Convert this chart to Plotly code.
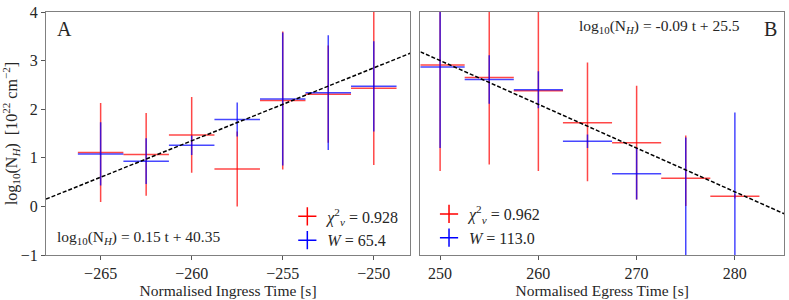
import plotly.graph_objects as go

# ---------------- data ----------------
t_ingress = [-265, -262.5, -260, -257.5, -255, -252.5, -250]
t_ingress_err = [1.25] * 7
red_ingress = [1.11, 1.07, 1.47, 0.77, 2.18, 2.31, 2.43]
red_ingress_err = [1.02, 0.85, 0.78, 0.77, 1.42, 1.00, 1.58]
blue_ingress = [1.08, 0.93, 1.26, 1.79, 2.21, 2.34, 2.47]
blue_ingress_err = [0.65, 0.47, 0.20, 0.35, 1.37, 1.18, 0.93]

t_egress = [250, 255, 260, 265, 270, 275, 280]
t_egress_err = [2.5] * 7
red_egress = [2.91, 2.65, 2.38, 1.72, 1.31, 0.58, 0.21]
red_egress_err_plus = [2.20, 1.80, 1.65, 1.24, 1.17, 0.88, 0.05]
red_egress_err_minus = [2.18, 1.79, 1.65, 1.20, 1.17, 0.57, 0.05]
blue_egress = [2.87, 2.61, 2.40, 1.34, 0.67, -1.30, -1.20]
blue_egress_err = [1.67, 0.50, 0.38, 0.14, 0.53, 2.72, 3.13]

fit_ingress = {"slope": 0.15, "intercept": 40.35}
fit_egress = {"slope": -0.09, "intercept": 25.5}

ingress_range = [-268, -248]
egress_range = [248, 285]
y_range = [-1, 4]

legend_ingress = ["<i>χ</i><sup>2</sup><sub><i>ν</i></sub> = 0.928", "<i>W</i> = 65.4"]
legend_egress = ["<i>χ</i><sup>2</sup><sub><i>ν</i></sub> = 0.962", "<i>W</i> = 113.0"]

eq_ingress = "log<sub>10</sub>(N<sub><i>H</i></sub>) = 0.15 t + 40.35"
eq_egress = "log<sub>10</sub>(N<sub><i>H</i></sub>) = -0.09 t + 25.5"

RED = "rgba(255,0,0,0.72)"
BLUE = "rgba(0,0,255,0.72)"
FONT = "'Liberation Serif', 'DejaVu Serif', 'Times New Roman', serif"
TXT = "#262626"

fig = go.Figure()


def err_trace(x, y, xerr, yplus, yminus, color, xa, ya):
    return go.Scatter(
        x=x, y=y, mode="markers", xaxis=xa, yaxis=ya,
        marker=dict(size=1, color="rgba(0,0,0,0)"),
        error_x=dict(type="data", array=xerr, symmetric=True, color=color,
                     thickness=1.5, width=0),
        error_y=dict(type="data", array=yplus, arrayminus=yminus,
                     symmetric=False, color=color, thickness=1.5, width=0),
        showlegend=False, hoverinfo="skip",
    )


# ingress panel
fig.add_trace(err_trace(t_ingress, red_ingress, t_ingress_err, red_ingress_err,
                        red_ingress_err, RED, "x", "y"))
fig.add_trace(err_trace(t_ingress, blue_ingress, t_ingress_err, blue_ingress_err,
                        blue_ingress_err, BLUE, "x", "y"))
fig.add_trace(go.Scatter(
    x=ingress_range,
    y=[fit_ingress["slope"] * t + fit_ingress["intercept"] for t in ingress_range],
    mode="lines", line=dict(color="black", width=1.5, dash="4px,2px"),
    xaxis="x", yaxis="y", showlegend=False, hoverinfo="skip"))

# egress panel
fig.add_trace(err_trace(t_egress, red_egress, t_egress_err, red_egress_err_plus,
                        red_egress_err_minus, RED, "x2", "y2"))
fig.add_trace(err_trace(t_egress, blue_egress, t_egress_err, blue_egress_err,
                        blue_egress_err, BLUE, "x2", "y2"))
fig.add_trace(go.Scatter(
    x=egress_range,
    y=[fit_egress["slope"] * t + fit_egress["intercept"] for t in egress_range],
    mode="lines", line=dict(color="black", width=1.5, dash="4px,2px"),
    xaxis="x2", yaxis="y2", showlegend=False, hoverinfo="skip"))

# legend entries
for name, col, leg in [(legend_ingress[0], "red", "legend"),
                       (legend_ingress[1], "blue", "legend"),
                       (legend_egress[0], "red", "legend2"),
                       (legend_egress[1], "blue", "legend2")]:
    fig.add_trace(go.Scatter(
        x=[None], y=[None], mode="markers", name=name, legend=leg,
        xaxis="x" if leg == "legend" else "x2",
        yaxis="y" if leg == "legend" else "y2",
        marker=dict(symbol="cross-thin", size=13, color=col,
                    line=dict(color=col, width=1.5))))

axis_common = dict(showline=True, mirror=True, linecolor="#808080", linewidth=1,
                   showgrid=False, zeroline=False, ticks="outside", ticklen=4,
                   tickcolor="#555", tickfont=dict(family=FONT, size=16, color=TXT))

fig.update_layout(
    width=789, height=300,
    margin=dict(l=46, r=4, t=9, b=41),
    paper_bgcolor="white", plot_bgcolor="white",
    font=dict(family=FONT, size=16, color=TXT),
    xaxis=dict(domain=[0, 0.4935], range=ingress_range, dtick=5,
               title=dict(text="Normalised Ingress Time [s]", standoff=3,
                          font=dict(family=FONT, size=15.5)), **axis_common),
    yaxis=dict(range=y_range, dtick=1,
               title=dict(text="log<sub>10</sub>(N<sub><i>H</i></sub>)  [10<sup>22</sup> cm<sup>−2</sup>]",
                          standoff=6, font=dict(family=FONT, size=16)), **axis_common),
    xaxis2=dict(domain=[0.5074, 1], range=egress_range, dtick=10, anchor="y2",
                title=dict(text="Normalised Egress Time [s]", standoff=3,
                           font=dict(family=FONT, size=15.5)), **axis_common),
    yaxis2=dict(range=y_range, anchor="x2", showline=True, mirror=True,
                linecolor="#808080", linewidth=1, showgrid=False, zeroline=False,
                showticklabels=False, ticks=""),
    legend=dict(x=0.327, y=-0.01, xanchor="left", yanchor="bottom",
                bgcolor="rgba(0,0,0,0)", font=dict(family=FONT, size=16),
                itemsizing="trace", tracegroupgap=0),
    legend2=dict(x=0.519, y=0.0, xanchor="left", yanchor="bottom",
                 bgcolor="rgba(0,0,0,0)", font=dict(family=FONT, size=16),
                 itemsizing="trace", tracegroupgap=0),
    showlegend=True,
    annotations=[
        dict(text="A", xref="paper", yref="paper", x=0.012, y=0.985,
             xanchor="left", yanchor="top", showarrow=False,
             font=dict(family=FONT, size=20)),
        dict(text="B", xref="paper", yref="paper", x=0.993, y=0.985,
             xanchor="right", yanchor="top", showarrow=False,
             font=dict(family=FONT, size=20)),
        dict(text=eq_ingress, xref="paper", yref="paper", x=0.012, y=0.07,
             xanchor="left", yanchor="middle", showarrow=False,
             font=dict(family=FONT, size=15.5)),
        dict(text=eq_egress, xref="paper", yref="paper", x=0.943, y=0.94,
             xanchor="right", yanchor="middle", showarrow=False,
             font=dict(family=FONT, size=15.5)),
    ],
)

fig.write_html("out.html", config={"displayModeBar": False},
               post_script="document.body.style.margin='0px';document.body.style.padding='0px';")
